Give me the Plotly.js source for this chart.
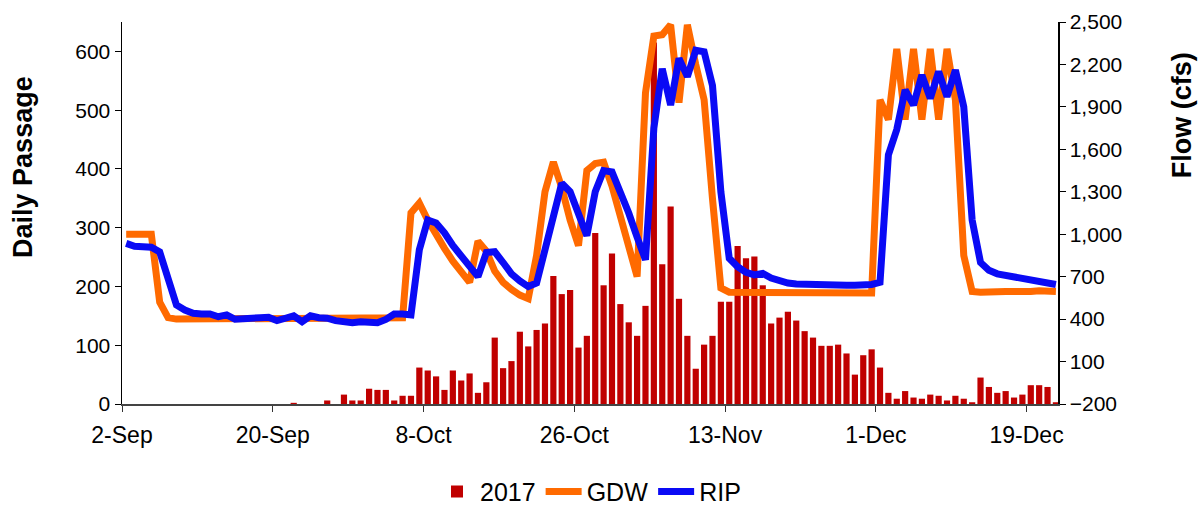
<!DOCTYPE html>
<html><head><meta charset="utf-8">
<script src="https://cdn.plot.ly/plotly-3.0.1.min.js"></script>
<style>html,body{margin:0;padding:0;background:#fff}#chart{width:1200px;height:506px}</style>
</head><body><div id="chart"></div>
<script>
// Daily passage (2017), one value per day starting 2-Sep-2017
const passage2017 = [
  0,0,0,0,0,0,0,0,0,0, 0,0,0,0,0,0,0,0,0,0,
  2,0,0,0,6,0,16,6,6,26, 24,24,6,14,14,62,57,47,24,57,
  40,52,19,37,113,61,73,123,98,126, 137,218,187,194,96,116,291,202,256,170,
  139,116,167,615,238,336,179,116,60,101, 116,174,174,269,248,251,202,137,147,157,
  142,124,113,99,99,101,86,50,83,93, 62,19,9,22,11,9,16,14,6,14,
  9,3,45,29,19,22,11,16,32,32, 29,3
];
// GDW flow (cfs)
const gdwFlow = [
  1000,1000,1000,1000,520,410,400,400,400,400, 400,405,400,400,400,400,400,400,400,400,
  400,405,400,400,400,400,400,405,405,405, 405,410,410,410,1150,1220,1100,990,900,810,
  730,660,950,880,740,660,610,570,545,850, 1300,1510,1330,1100,920,1450,1500,1510,1340,1130,
  900,700,2000,2400,2410,2480,1930,2480,2200,1950, 1250,620,590,590,590,590,590,590,585,585,
  585,585,585,585,585,585,585,585,585,585, 1950,1810,2310,1810,2310,1810,2310,1810,2310,1950,
  850,595,590,595,590,595,595,590,595,600, 595,595
];
// RIP flow (cfs)
const ripFlow = [
  935,915,912,908,875,680,500,464,441,436, 436,417,430,399,406,406,410,413,389,406,
  423,382,423,410,406,389,382,375,382,382, 375,398,436,436,430,890,1100,1080,1010,920,
  840,760,700,870,876,800,720,670,630,655, 900,1130,1360,1300,1130,990,1300,1450,1440,1300,
  1150,980,820,1750,2170,1913,2243,2114,2300,2290, 2050,1300,830,770,730,712,723,690,670,655,
  648,645,642,640,640,642,640,640,642,645, 660,1560,1740,2020,1913,2125,1960,2149,1972,2160,
  1900,1100,800,745,720,710,700,690,680,670, 660,645
];
const tickDates = ['2017-09-02','2017-09-20','2017-10-08','2017-10-26','2017-11-13','2017-12-01','2017-12-19'];
const tickLabels = ['2-Sep','20-Sep','8-Oct','26-Oct','13-Nov','1-Dec','19-Dec'];
const passageTicks = [0,100,200,300,400,500,600];
const flowTicks = [-200,100,400,700,1000,1300,1600,1900,2200,2500];

const dates = passage2017.map((_, i) => new Date(Date.UTC(2017, 8, 2 + i)).toISOString().slice(0, 10));
const DAY = 86400000;
const FONT = 'Liberation Sans, Arial, sans-serif';

const traces = [
  {type:'bar', x:dates, y:passage2017, name:'2017', marker:{color:'#C00000'},
   xperiod:DAY, xperiodalignment:'middle'},
  {type:'scatter', mode:'lines', x:dates, y:gdwFlow, name:'GDW', yaxis:'y2',
   line:{color:'#FF6A00', width:7}, xperiod:DAY, xperiodalignment:'middle'},
  {type:'scatter', mode:'lines', x:dates, y:ripFlow, name:'RIP', yaxis:'y2',
   line:{color:'#0A0AF5', width:7}, xperiod:DAY, xperiodalignment:'middle'}
];

const layout = {
  width:1200, height:506,
  margin:{l:122, r:142, t:22, b:102},
  paper_bgcolor:'#fff', plot_bgcolor:'#fff',
  font:{family:FONT, size:20, color:'#000'},
  bargap:0.26,
  showlegend:true,
  legend:{orientation:'h', x:0.5, xanchor:'center', yref:'container', y:0.028, yanchor:'middle',
          font:{size:25}, itemwidth:36, tracegroupgap:0},
  xaxis:{type:'date', range:['2017-09-02', '2017-12-22 18:00'], tickvals:tickDates, ticktext:tickLabels,
         ticks:'outside', ticklen:6, tickcolor:'#333', showline:true, linecolor:'#444', linewidth:1.5,
         showgrid:false, zeroline:false, tickfont:{size:23}, ticklabelstandoff:4},
  yaxis:{range:[0,650], tickvals:passageTicks, ticks:'outside', ticklen:6, tickcolor:'#000',
         showline:true, linecolor:'#000', linewidth:1.5, showgrid:false, zeroline:false,
         tickfont:{size:21}},
  yaxis2:{overlaying:'y', side:'right', range:[-200,2500], tickvals:flowTicks, tickformat:',',
          ticks:'outside', ticklen:6, tickcolor:'#000', showline:true, linecolor:'#000', linewidth:1.5,
          showgrid:false, zeroline:false, tickfont:{size:21}},
  annotations:[
    {text:'<b>Daily Passage</b>', xref:'paper', yref:'paper', x:-0.106, y:0.62, xanchor:'center', yanchor:'middle',
     textangle:-90, showarrow:false, font:{size:27}},
    {text:'<b>Flow (cfs)</b>', xref:'paper', yref:'paper', x:1.132, y:0.755, xanchor:'center', yanchor:'middle',
     textangle:-90, showarrow:false, font:{size:27}}
  ]
};

Plotly.newPlot('chart', traces, layout, {displayModeBar:false, staticPlot:true});
</script>
</body></html>
